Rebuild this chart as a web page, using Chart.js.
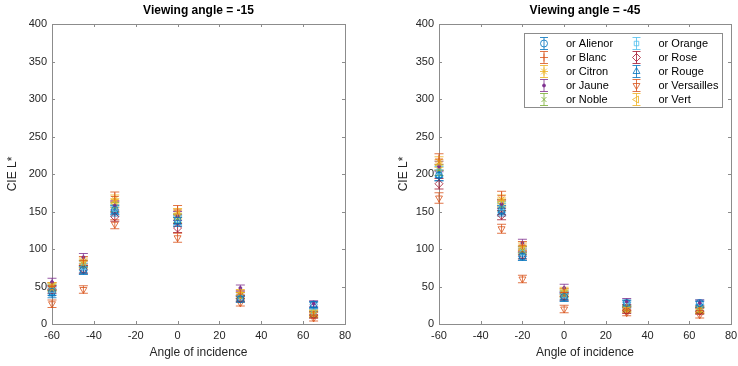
<!DOCTYPE html>
<html>
<head>
<meta charset="utf-8">
<script src="https://cdn.jsdelivr.net/npm/chart.js@4/dist/chart.umd.min.js"></script>
<style>
html, body { margin: 0; padding: 0; background: #fff; }
#wrap { position: relative; width: 738px; height: 366px; }
.panel { position: absolute; top: 0; }
#p1 { left: 0; }
#p2 { left: 393px; }
</style>
</head>
<body>
<div id="wrap">
  <div class="panel" id="p1"><canvas id="c1" width="393" height="366"></canvas></div>
  <div class="panel" id="p2"><canvas id="c2" width="345" height="366"></canvas></div>
</div>
<script>
// angles of incidence for each panel
const angles15 = [-60, -45, -30, 0, 30, 65];
const angles45 = [-60, -30, -20, 0, 30, 65];

const names = ['or Alienor', 'or Blanc', 'or Citron', 'or Jaune', 'or Noble',
               'or Orange', 'or Rose', 'or Rouge', 'or Versailles', 'or Vert'];

// viewing angle = -15
const v15Alienor    = [43, 72, 152, 138, 33, 26];
const v15Blanc      = [50, 85, 170, 152, 40, 12];
const v15Citron     = [50, 83, 166, 148, 42, 15];
const v15Jaune      = [56, 89, 158, 144, 48, 27];
const v15Noble      = [48, 80, 156, 141, 38, 13];
const v15Orange     = [45, 76, 153, 139, 35, 16];
const v15Rose       = [46, 73, 143, 128, 34, 12];
const v15Rouge      = [40, 71, 150, 136, 33, 25];
const v15Versailles = [27, 46, 133, 115, 28, 8];
const v15Vert       = [50, 80, 161, 146, 38, 14];
const err15 = [5, 5, 6, 6, 4, 4];

// viewing angle = -45
const v45Alienor    = [198, 152, 90, 36, 28, 28];
const v45Blanc      = [220, 171, 105, 42, 20, 18];
const v45Citron     = [216, 166, 103, 44, 22, 20];
const v45Jaune      = [210, 160, 108, 48, 30, 28];
const v45Noble      = [205, 157, 98, 40, 20, 18];
const v45Orange     = [203, 155, 95, 38, 25, 22];
const v45Rose       = [187, 145, 92, 37, 18, 17];
const v45Rouge      = [198, 150, 90, 35, 27, 26];
const v45Versailles = [168, 127, 60, 20, 15, 12];
const v45Vert       = [212, 162, 100, 42, 20, 19];
const err45 = [7, 6, 5, 5, 4, 4];

const xTicks = [-60, -40, -20, 0, 20, 40, 60, 80];
const yTicks = [0, 50, 100, 150, 200, 250, 300, 350, 400];

// matlab-ish marker set
const colors = ['#0072BD', '#D95319', '#EDB120', '#7E2F8E', '#77AC30',
                '#4DBEEE', '#A2142F', '#0072BD', '#D95319', '#EDB120'];
const markers = ['circle', 'cross', 'star', 'circle', 'crossRot',
                 'rect', 'rectRot', 'triangle', 'triangle', 'triangle'];
const rotations = [0, 0, 0, 0, 0, 0, 0, 0, 180, 270];
const radii = [3.5, 4, 4, 1.5, 3.5, 3.2, 4, 4, 4, 4];

const axisColor = '#8c8c8c';
const textColor = '#262626';
const fontFamily = '"Liberation Sans", Arial, sans-serif';
const thin = 0.8;

function makeDatasets(angles, series, errs) {
    return series.map((vals, i) => ({
        label: names[i],
        data: vals.map((v, j) => ({ x: angles[j], y: v })),
        errors: errs,
        borderColor: colors[i],
        backgroundColor: i === 3 ? colors[i] : 'rgba(0,0,0,0)',
        pointStyle: markers[i],
        pointRotation: rotations[i],
        pointRadius: radii[i],
        pointHoverRadius: radii[i],
        pointBorderWidth: thin,
        showLine: false,
        clip: false
    }));
}

const errorBars = {
    id: 'errorBars',
    beforeDatasetsDraw(chart) {
        const { ctx, scales: { x, y } } = chart;
        ctx.save();
        ctx.lineWidth = thin;
        chart.data.datasets.forEach(ds => {
            ctx.strokeStyle = ds.borderColor;
            ds.data.forEach((p, j) => {
                const px = x.getPixelForValue(p.x);
                const top = y.getPixelForValue(p.y + ds.errors[j]);
                const bot = y.getPixelForValue(p.y - ds.errors[j]);
                ctx.beginPath();
                ctx.moveTo(px, top); ctx.lineTo(px, bot);
                ctx.moveTo(px - 4.5, top); ctx.lineTo(px + 4.5, top);
                ctx.moveTo(px - 4.5, bot); ctx.lineTo(px + 4.5, bot);
                ctx.stroke();
            });
        });
        ctx.restore();
    }
};

// box around the axes with inward ticks on all four sides
const axesBox = {
    id: 'axesBox',
    beforeDatasetsDraw(chart) {
        const { ctx, chartArea: a, scales: { x, y } } = chart;
        ctx.save();
        ctx.strokeStyle = axisColor;
        ctx.lineWidth = 1;
        ctx.strokeRect(Math.round(a.left) + 0.5, Math.round(a.top) + 0.5,
                       Math.round(a.right - a.left), Math.round(a.bottom - a.top));
        ctx.beginPath();
        xTicks.forEach(t => {
            const px = Math.round(x.getPixelForValue(t)) + 0.5;
            ctx.moveTo(px, a.bottom); ctx.lineTo(px, a.bottom - 3);
            ctx.moveTo(px, a.top); ctx.lineTo(px, a.top + 3);
        });
        yTicks.forEach(t => {
            const py = Math.round(y.getPixelForValue(t)) + 0.5;
            ctx.moveTo(a.left, py); ctx.lineTo(a.left + 3, py);
            ctx.moveTo(a.right, py); ctx.lineTo(a.right - 3, py);
        });
        ctx.stroke();
        ctx.restore();
    }
};

const panelTitle = {
    id: 'panelTitle',
    afterDraw(chart, args, opts) {
        const { ctx, chartArea: a } = chart;
        ctx.save();
        ctx.font = 'bold 12px ' + fontFamily;
        ctx.fillStyle = '#000';
        ctx.textAlign = 'center';
        ctx.textBaseline = 'middle';
        ctx.fillText(opts.text, (a.left + a.right) / 2, 11);
        ctx.restore();
    }
};

// two-column legend, like the matlab one
const boxLegend = {
    id: 'boxLegend',
    afterDraw(chart, args, opts) {
        if (!opts.show) return;
        const { ctx, chartArea: a } = chart;
        const w = 198, h = 74;
        const left = Math.round(a.right) - 9 - w, top = Math.round(a.top) + 9;
        ctx.save();
        ctx.fillStyle = '#fff';
        ctx.fillRect(left, top, w, h);
        ctx.strokeStyle = axisColor;
        ctx.lineWidth = 1;
        ctx.strokeRect(left + 0.5, top + 0.5, w, h);
        ctx.font = '11px ' + fontFamily;
        ctx.textBaseline = 'middle';
        chart.data.datasets.forEach((ds, i) => {
            const col = Math.floor(i / 5), row = i % 5;
            const sx = left + 20 + col * 92.5;
            const sy = top + 10.5 + row * 14;
            ctx.strokeStyle = ds.borderColor;
            ctx.lineWidth = thin;
            ctx.beginPath();
            ctx.moveTo(sx, sy - 6); ctx.lineTo(sx, sy + 6);
            ctx.moveTo(sx - 4, sy - 6); ctx.lineTo(sx + 4, sy - 6);
            ctx.moveTo(sx - 4, sy + 6); ctx.lineTo(sx + 4, sy + 6);
            ctx.stroke();
            ctx.fillStyle = ds.backgroundColor;
            Chart.helpers.drawPoint(ctx, {
                pointStyle: ds.pointStyle, rotation: ds.pointRotation,
                radius: ds.pointRadius, borderWidth: thin
            }, sx, sy);
            ctx.fillStyle = '#000';
            ctx.fillText(ds.label, sx + 22, sy);
        });
        ctx.restore();
    }
};

function makeChart(id, angles, series, errs, title, yTitlePad, yWidth, padRight, legend) {
    return new Chart(document.getElementById(id), {
        type: 'scatter',
        data: { datasets: makeDatasets(angles, series, errs) },
        plugins: [axesBox, errorBars, panelTitle, boxLegend],
        options: {
            responsive: false,
            animation: false,
            events: [],
            layout: { padding: { top: 24, right: padRight, left: 0, bottom: 0 } },
            plugins: {
                legend: { display: false },
                tooltip: { enabled: false },
                panelTitle: { text: title },
                boxLegend: { show: legend }
            },
            scales: {
                x: {
                    type: 'linear', min: -60, max: 80,
                    afterBuildTicks: s => { s.ticks = xTicks.map(v => ({ value: v })); },
                    afterFit: s => { s.height = 42; s.paddingLeft = 0; s.paddingRight = 0; },
                    grid: { display: false, drawTicks: false },
                    border: { display: false },
                    ticks: { color: textColor, font: { size: 11, family: fontFamily }, padding: 5, maxRotation: 0 },
                    title: { display: true, text: 'Angle of incidence', color: textColor,
                             font: { size: 12, family: fontFamily }, padding: { top: 0, bottom: 6 } }
                },
                y: {
                    type: 'linear', min: 0, max: 400,
                    afterBuildTicks: s => { s.ticks = yTicks.map(v => ({ value: v })); },
                    afterFit: s => { s.width = yWidth; },
                    grid: { display: false, drawTicks: false },
                    border: { display: false },
                    ticks: { color: textColor, font: { size: 11, family: fontFamily }, padding: 5 },
                    title: { display: true, text: 'CIE L*', color: textColor,
                             font: { size: 12, family: fontFamily }, padding: { top: yTitlePad, bottom: 0 } }
                }
            }
        }
    });
}

makeChart('c1', angles15,
    [v15Alienor, v15Blanc, v15Citron, v15Jaune, v15Noble, v15Orange, v15Rose, v15Rouge, v15Versailles, v15Vert],
    err15, 'Viewing angle = -15', 5, 52, 48, false);

makeChart('c2', angles45,
    [v45Alienor, v45Blanc, v45Citron, v45Jaune, v45Noble, v45Orange, v45Rose, v45Rouge, v45Versailles, v45Vert],
    err45, 'Viewing angle = -45', 3, 46, 7, true);
</script>
</body>
</html>
